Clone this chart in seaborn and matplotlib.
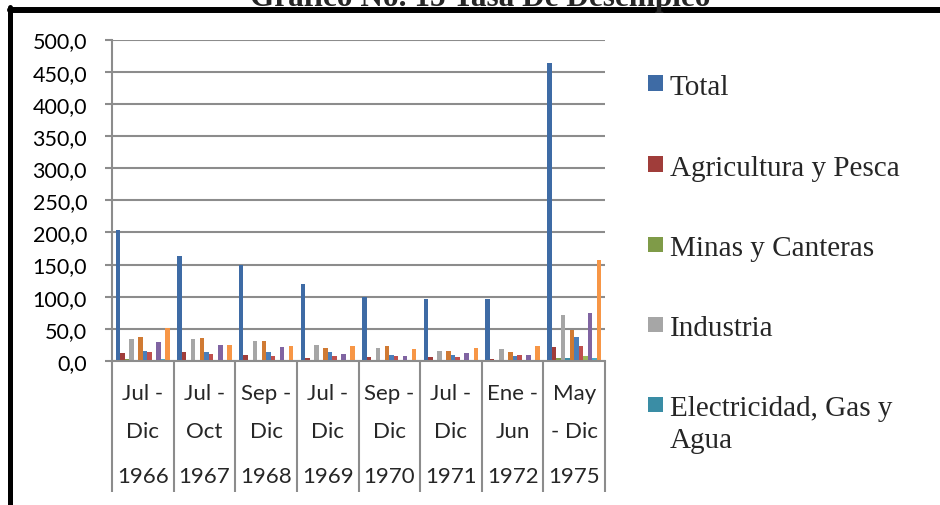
import matplotlib
matplotlib.use("Agg")
import matplotlib.pyplot as plt
import matplotlib.transforms as mtransforms
from matplotlib.lines import Line2D
from matplotlib.patches import Rectangle
import pandas as pd
import seaborn as sns

# categories
years = ["1966", "1967", "1968", "1969", "1970", "1971", "1972", "1975"]
periods = ["Jul -\nDic", "Jul -\nOct", "Sep -\nDic", "Jul -\nDic",
           "Sep -\nDic", "Jul -\nDic", "Ene -\nJun", "May\n- Dic"]

series = ["Total", "Agricultura y Pesca", "Minas y Canteras", "Industria",
          "Electricidad, Gas y Agua", "Construcción", "Comercio",
          "Transporte y Comunicaciones", "Establecimientos Financieros",
          "Servicios", "Actividades no especificadas",
          "Buscan trabajo por primera vez"]

# values, one list per series
total = [204, 163, 149, 119, 100, 96, 97, 464]
agricultura = [12, 14, 9, 4, 6, 6, 3, 21]
minas = [3, 2, 1.5, 2, 0, 1, 1, 5]
industria = [34, 34, 31, 25, 20, 15, 18, 71]
electricidad = [0, 0, 0, 0, 0, 0, 0, 4]
construccion = [37, 35, 31, 20, 23, 15, 14, 48]
comercio = [15.5, 14.5, 14, 14, 9, 10, 7, 38]
transporte = [13.5, 11, 8, 8, 7, 6, 9, 23]
financieros = [0, 0, 0, 0, 0, 0, 0, 8]
servicios = [29, 25, 21, 11, 7, 13, 10, 74]
no_especificado = [3, 0, 0, 0, 0, 1.5, 0, 4]
primera_vez = [51.5, 25.5, 24, 23.5, 18.5, 20, 23.5, 157]

values = [total, agricultura, minas, industria, electricidad, construccion,
          comercio, transporte, financieros, servicios, no_especificado,
          primera_vez]

colors = ["#3E6BA5", "#A03D3A", "#7F9B48", "#A6A6A6", "#3A8DA5", "#D07A33",
          "#4A7EBB", "#C0504D", "#9BBB59", "#8064A2", "#4BACC6", "#F79646"]

yticks = [0, 50, 100, 150, 200, 250, 300, 350, 400, 450, 500]

rows = []
for name, vals in zip(series, values):
    for yr, v in zip(years, vals):
        rows.append({"anio": yr, "serie": name, "valor": v})
df = pd.DataFrame(rows)

sns.set_style("white")
plt.rcParams["font.family"] = ["Lato", "DejaVu Sans"]

W, H = 940, 506
fig = plt.figure(figsize=(W / 100, H / 100), dpi=100)
ax = fig.add_axes([112 / W, 1 - 362 / H, (605 - 112) / W, (362 - 40.5) / H])

grid_c = "#8C8C8C"
sns.barplot(data=df, x="anio", y="valor", hue="serie", order=years,
            hue_order=series, palette=colors, width=0.88, saturation=1,
            legend=False, ax=ax, linewidth=0)

ax.set_xlim(-0.5, len(years) - 0.5)
ax.set_ylim(0, 500)
ax.set_yticks(yticks)
ax.set_yticklabels([f"{v:.1f}".replace(".", ",") for v in yticks])
ax.yaxis.grid(True, color=grid_c, lw=1.5)
ax.set_axisbelow(True)
ax.set_xlabel("")
ax.set_ylabel("")
for s in ["top", "right"]:
    ax.spines[s].set_visible(False)
for s in ["left", "bottom"]:
    ax.spines[s].set_color(grid_c)
    ax.spines[s].set_linewidth(1.5)

ax.tick_params(axis="y", direction="out", length=5, width=1.5, color=grid_c,
               labelsize=15.5, labelcolor="black", pad=13, left=True)
ax.set_xticks(range(len(years)))
ax.set_xticklabels(periods)
ax.tick_params(axis="x", which="major", length=0, labelsize=16, pad=16)
for lab in ax.get_xticklabels():
    lab.set_linespacing(2.1)
ax.set_xticks([i - 0.5 for i in range(len(years) + 1)], minor=True)
ax.tick_params(axis="x", which="minor", direction="out", length=94,
               width=1.5, color=grid_c, bottom=True)

trans = mtransforms.blended_transform_factory(ax.transData, fig.transFigure)
for i, yr in enumerate(years):
    ax.text(i, 1 - 477 / H, yr, transform=trans, ha="center", va="center",
            fontsize=16)

# legend (only the first entries fit in the picture)
serif = ["Liberation Serif", "DejaVu Serif"]
leg_centers = [84, 165, 245.5, 325.5, 405.5]
leg_labels = ["Total", "Agricultura y Pesca", "Minas y Canteras", "Industria",
              "Electricidad, Gas y"]
for i, (c, lab) in enumerate(zip(leg_centers, leg_labels)):
    fig.add_artist(Rectangle((648 / W, 1 - (c + 7.5) / H), 15 / W, 15 / H,
                             transform=fig.transFigure, color=colors[i],
                             lw=0))
    fig.text(670 / W, 1 - (c + 11) / H, lab, fontsize=21, family=serif,
             va="baseline", ha="left")
fig.text(670 / W, 1 - (405.5 + 43) / H, "Agua", fontsize=21, family=serif,
         va="baseline", ha="left")

# title, mostly cut off at the top edge as in the source
fig.text(480 / W, 1 - 6 / H, "Gráfico No. 15 Tasa De Desempleo",
         fontsize=22.5, fontweight="bold", family=serif, ha="center",
         va="baseline")

# thick black frame on top and left
fig.add_artist(Line2D([9.8 / W, 1], [1 - 11 / H, 1 - 11 / H], color="black",
                      lw=4.3, transform=fig.transFigure))
fig.add_artist(Line2D([9.8 / W, 9.8 / W], [0, 1 - 8 / H], color="black",
                      lw=3.6, transform=fig.transFigure))

fig.savefig("out.png", dpi=100)
